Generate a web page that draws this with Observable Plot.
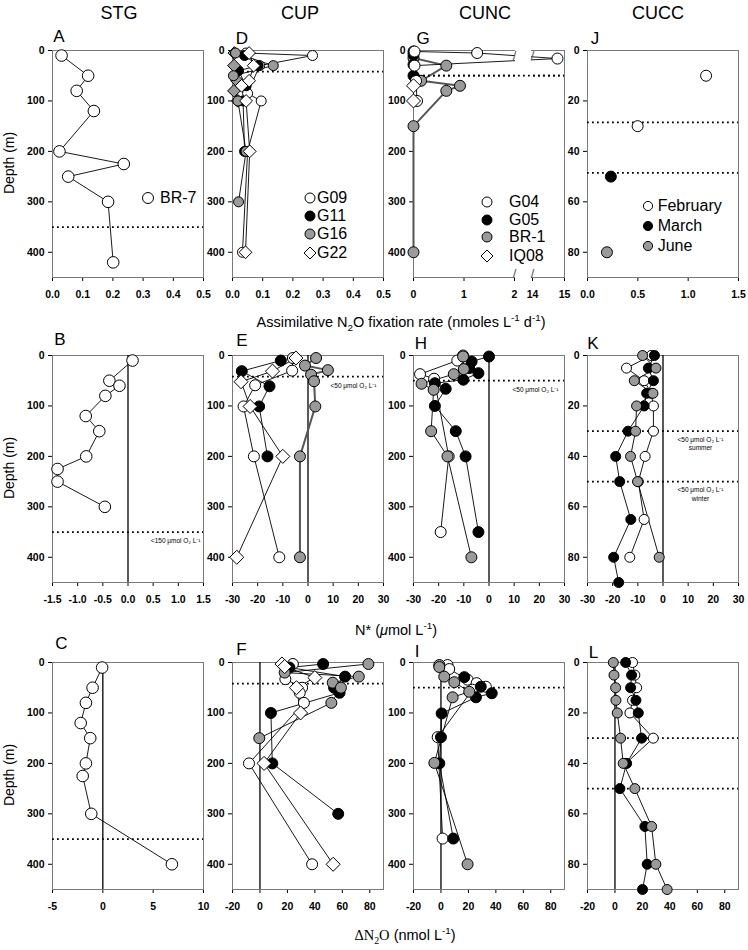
<!DOCTYPE html>
<html><head><meta charset="utf-8">
<script src="https://cdn.jsdelivr.net/npm/d3@7"></script>
<script src="https://cdn.jsdelivr.net/npm/@observablehq/plot@0.6"></script>
<style>
body{margin:0;background:#fff;font-family:"Liberation Sans",Arial,sans-serif;}
#fig{position:relative;width:748px;height:950px;overflow:hidden;background:#fff;}
.lab{position:absolute;white-space:nowrap;color:#000;transform:translate(-50%,-50%);line-height:1;}
.leg{position:absolute;white-space:nowrap;color:#000;font-size:16px;line-height:1;transform:translateY(-50%);}
sub,sup{font-size:68%;line-height:0;}
</style></head><body><div id="fig"></div>
<script>
// ---------------- DATA (depth m, value) ----------------
const columnTitles = ["STG", "CUP", "CUNC", "CUCC"];
const panelLetters = [["A","D","G","J"],["B","E","H","K"],["C","F","I","L"]];

// Row 1: assimilative N2O fixation rate
const A_BR7 = [[10,0.03],[50,0.118],[80,0.08],[120,0.137],[200,0.023],[225,0.236],[250,0.052],[300,0.184],[420,0.201]];
const D_G09 = [[5,0.045],[10,0.265],[30,0.09],[85,0.05],[100,0.095],[200,0.05],[400,0.033]];
const D_G11 = [[10,0.04],[30,0.085],[40,0.02],[70,0.045],[100,0.035],[200,0.04]];
const D_G16 = [[5,0.01],[30,0.135],[50,0.003],[100,0.018],[200,0.045],[300,0.02]];
const D_G22 = [[5,0.055],[30,0.07],[60,0.055],[70,0.03],[100,0.045],[200,0.057],[400,0.043]];
const D_G16b = [[5,0.006],[30,0.005],[60,0.015],[80,0.005],[100,0.018]];
const G_G04 = [[2,0.02],[5,1.26],[16,14.78],[30,0.02],[60,0.05],[100,0.07]];
const G_G05 = [[2,0],[8,0],[28,0],[50,0]];
const G_BR1 = [[15,0],[30,0.65],[60,0.15],[70,0.92],[80,0.65],[150,0],[400,0]];
const G_IQ08 = [[70,0],[100,0]];
const J_Feb = [[10,1.178],[30,0.498]];
const J_Mar = [[50,0.232]];
const J_Jun = [[80,0.193]];

// Row 2: N*
const B_BR7 = [[10,0.09],[50,-0.37],[60,-0.17],[80,-0.45],[120,-0.84],[150,-0.57],[200,-0.83],[225,-1.4],[250,-1.4],[300,-0.46]];
const E_G09 = [[5,-6],[30,-6.3],[59,-21],[101,-25.6],[200,-21.5],[400,-11.4]];
const E_G11 = [[10,-10.8],[31,-26.3],[61,-15.3],[101,-19.4],[200,-16.1]];
const E_G16 = [[5,3.2],[20,-1.2],[29,7.9],[38,1.2],[51,2.4],[101,2.9],[200,-3.2],[400,-3.2]];
const E_G22 = [[5,-4.8],[31,-14.1],[52,-26.6],[101,-23],[200,-10],[400,-28.3]];
const H_G04 = [[0,-10.3],[10,-12.6],[37,-27.4],[46,-21.8],[200,-16],[350,-19.2]];
const H_G05 = [[2,0],[12,-6.9],[25,-7.9],[35,-4.2],[48,-10.2],[55,-21.5],[66,-17.2],[100,-21.5],[150,-13.2],[200,-9.3],[350,-4.2]];
const H_BR1 = [[2,-10.3],[27,-10],[37,-14],[56,-26.8],[68,-22],[150,-23],[200,-16.5],[400,-7]];
const K_Feb = [[0,-4.7],[5,-14.5],[10,-7.5],[15,-4.7],[20,-3.8],[30,-3.8],[40,-7.1],[50,-9.8],[65,-7.5],[80,-13.2]];
const K_Mar = [[0,-3.4],[5,-5.8],[10,-3.8],[15,-6.5],[20,-7.5],[30,-13.9],[40,-18.8],[50,-17.2],[65,-12.8],[80,-19.6],[90,-17.6]];
const K_Jun = [[0,-8.1],[5,-2.8],[10,-11.4],[15,-4],[20,-10.5],[30,-10.9],[40,-12.9],[50,-10.1],[80,-1.5]];

// Row 3: delta N2O
const C_BR7 = [[10,-0.07],[50,-1.02],[80,-1.68],[120,-2.2],[150,-1.25],[200,-1.68],[225,-2.0],[300,-1.15],[400,6.86]];
const F_G09 = [[3,24],[33,18.5],[50,30.7],[60,29],[80,32],[200,-8],[400,38]];
const F_G11 = [[3,46],[10,21.5],[28,62],[50,54],[60,58],[100,8],[200,9],[300,57]];
const F_G16 = [[3,79],[20,18],[28,72],[40,53],[50,59],[80,52],[150,-0.5]];
const F_G22 = [[3,16],[8,18],[30,40],[50,26.6],[100,29.6],[200,3],[400,53.3]];
const I_G04 = [[5,4.8],[13,6],[34,19.4],[41,26],[48,32.7],[54,23],[148,-2.4],[349,1.2]];
const I_G05 = [[29,17],[48,29],[61,37],[69,25.5],[101,0.5],[148,0],[200,-1.2],[349,9]];
const I_BR1 = [[5,-1.2],[9,-1.2],[28,2.4],[39,9.7],[58,20.6],[69,8.5],[199,-4.8],[400,19.4]];
const L_Feb = [[0,12.8],[5,14.5],[10,15.8],[15,12.8],[20,10.9],[30,27.9],[40,8]];
const L_Mar = [[0,7.8],[5,12.1],[10,11.4],[15,15.3],[20,17],[30,19.4],[40,8.5],[50,3.6],[65,21.8],[80,23.5],[90,20.1]];
const L_Jun = [[0,-1.2],[5,-0.7],[10,0.5],[15,0.7],[20,1.7],[30,4.1],[40,6],[50,14.5],[65,26.7],[80,29.8],[90,38]];

// Oxygen threshold depths (dotted lines)
const oxSTG = [350];
const oxCUP = [42];
const oxCUNC = [50];
const oxCUCCrate = [28.5, 48.5];
const oxCUCC = [30, 50];
const oxNoteSTG = "<150 μmol O₂ L⁻¹";
const oxNote50 = "<50 μmol O₂ L⁻¹";
const seasonNotes = ["summer", "winter"];

// Axis tick values
const depthTicks = [0,100,200,300,400];
const depthTicksShelf = [0,20,40,60,80];
const rateTicks = [0,0.1,0.2,0.3,0.4,0.5];
const rateTicksCUNC = [0,1,2,14,15];
const cunBreak = [2, 14];
const rateTicksCUCC = [0,0.5,1.0,1.5];
const nstarTicksSTG = [-1.5,-1.0,-0.5,0,0.5,1.0,1.5];
const nstarTicks = [-30,-20,-10,0,10,20,30];
const dn2oTicksSTG = [-5,0,5,10];
const dn2oTicks = [-20,0,20,40,60,80];

// ---------------- STYLES / LAYOUT ----------------
const WHITE = {symbol:"circle", fill:"white"};
const BLACK = {symbol:"circle", fill:"black"};
const GRAY = {symbol:"circle", fill:"#9a9a9a"};
const DIAM = {symbol:"diamond2", fill:"white"};
const GDIAM = {symbol:"diamond2", fill:"#9a9a9a"};

const W = 151, H = 227, ML = 36, MR = 12, MT = 10, MB = 34;
const colLeft = [52, 232, 413, 587];
const rowTop = [50, 355, 662];
const fig = document.getElementById("fig");

const fmt1 = d => d.toFixed(1).replace("−","-");
const fmt0 = d => String(d);

function panel(cfg) {
  const marks = [Plot.frame({stroke:"#7a7a7a", strokeWidth:1})];
  if (cfg.zero) marks.push(Plot.ruleX([0], {stroke:"black", strokeWidth:1.3}));
  marks.push(Plot.ruleY(cfg.ox, {stroke:"black", strokeWidth:1.8, strokeDasharray:"1.8,3.2"}));
  for (const s of cfg.series) if (!cfg.noLine) marks.push(Plot.line(s.data, {x: d => d[1], y: d => d[0], stroke: s.lc || "black", strokeWidth: s.lw || 0.9}));
  const r = cfg.r || 5.5;
  for (const s of cfg.series) marks.push(Plot.dot(s.data, {x: d => d[1], y: d => d[0], symbol: s.sym.symbol, fill: s.sym.fill, stroke: "black", strokeWidth: 1, r: s.sym.symbol === "diamond2" ? r * 1.15 : r}));
  if (cfg.extra) marks.push(...cfg.extra);
  if (cfg.notes) marks.push(...cfg.notes);
  const xOpt = {domain: cfg.xDomain, ticks: cfg.xTicks, tickFormat: cfg.xFmt, tickSize: 4, tickPadding: 9, label: null};
  if (cfg.xRange) { xOpt.range = cfg.xRange; xOpt.type = "linear"; }
  const p = Plot.plot({
    width: W + ML + MR, height: H + MT + MB,
    marginLeft: ML, marginRight: MR, marginTop: MT, marginBottom: MB,
    x: xOpt,
    y: {domain: cfg.yDomain, reverse: true, ticks: cfg.yTicks, tickFormat: fmt0, tickSize: 4, tickPadding: 4, label: null},
    style: {fontFamily: "Liberation Sans, Arial, sans-serif", fontSize: "10.5px", fontWeight: "bold", color: "black", background: "transparent", overflow: "visible"},
    marks
  });
  p.style.position = "absolute";
  p.style.left = (cfg.left - ML) + "px";
  p.style.top = (cfg.top - MT) + "px";
  fig.appendChild(p);
}

const noteRight = (ox, text, dx, dy) => Plot.text(ox, {y: d => d, frameAnchor: "right", dx, dy, text: () => text, textAnchor: "end", fontSize: 6.5, fontWeight: "normal", fill: "black"});

// Row 1
panel({left: colLeft[0], top: rowTop[0], xDomain: [0,0.5], xTicks: rateTicks, xFmt: fmt1, yDomain: [0,450], yTicks: depthTicks, ox: oxSTG, r: 5.8,
  series: [{data: A_BR7, sym: WHITE}]});
panel({left: colLeft[1], top: rowTop[0], xDomain: [0,0.5], xTicks: rateTicks, xFmt: fmt1, yDomain: [0,450], yTicks: depthTicks, ox: oxCUP, r: 5,
  series: [{data: D_G09, sym: WHITE}, {data: D_G11, sym: BLACK}, {data: D_G16b, sym: GDIAM}, {data: D_G16, sym: GRAY}, {data: D_G22, sym: DIAM}]});
panel({left: colLeft[2], top: rowTop[0], xDomain: [0, cunBreak[0], cunBreak[1], 15], xRange: [ML, ML + 101, ML + 119, ML + W], xTicks: rateTicksCUNC, xFmt: fmt0,
  yDomain: [0,450], yTicks: depthTicks, ox: oxCUNC, r: 5.5,
  series: [{data: G_BR1, sym: GRAY, lw: 2, lc: "#555"}, {data: G_G05, sym: BLACK}, {data: G_G04, sym: WHITE}, {data: G_IQ08, sym: DIAM}],
  extra: [
    Plot.rect([cunBreak], {x1: d => d[0], x2: d => d[1], y1: () => 0, y2: () => 450, fill: "white", insetLeft: 1, insetRight: 1, insetTop: -3, insetBottom: -3}),
    Plot.ruleY(oxCUNC, {stroke:"black", strokeWidth:1.8, strokeDasharray:"1.8,3.2"}),
    Plot.text(cunBreak, {x: d => d, frameAnchor: "top", text: () => "/", fontSize: 13, fontWeight: "normal", fill: "#555"}),
    Plot.text(cunBreak, {x: d => d, frameAnchor: "bottom", text: () => "/", fontSize: 13, fontWeight: "normal", fill: "#555"})
  ]});
panel({left: colLeft[3], top: rowTop[0], xDomain: [0,1.5], xTicks: rateTicksCUCC, xFmt: fmt1, yDomain: [0,90], yTicks: depthTicksShelf, ox: oxCUCCrate, r: 5.5, noLine: true,
  series: [{data: J_Feb, sym: WHITE}, {data: J_Mar, sym: BLACK}, {data: J_Jun, sym: GRAY}]});

// Row 2
panel({left: colLeft[0], top: rowTop[1], xDomain: [-1.5,1.5], xTicks: nstarTicksSTG, xFmt: fmt1, yDomain: [0,450], yTicks: depthTicks, ox: oxSTG, zero: true, r: 5.8,
  series: [{data: B_BR7, sym: WHITE}], notes: [noteRight(oxSTG, oxNoteSTG, -3, 9)]});
panel({left: colLeft[1], top: rowTop[1], xDomain: [-30,30], xTicks: nstarTicks, xFmt: fmt0, yDomain: [0,450], yTicks: depthTicks, ox: oxCUP, zero: true, r: 5.5,
  series: [{data: E_G16, sym: GRAY, lw: 2, lc: "#555"}, {data: E_G09, sym: WHITE}, {data: E_G11, sym: BLACK}, {data: E_G22, sym: DIAM}],
  notes: [noteRight(oxCUP, oxNote50, -7, 9)]});
panel({left: colLeft[2], top: rowTop[1], xDomain: [-30,30], xTicks: nstarTicks, xFmt: fmt0, yDomain: [0,450], yTicks: depthTicks, ox: oxCUNC, zero: true, r: 5.5,
  series: [{data: H_G04, sym: WHITE}, {data: H_G05, sym: BLACK}, {data: H_BR1, sym: GRAY}],
  notes: [noteRight(oxCUNC, oxNote50, -6, 9)]});
panel({left: colLeft[3], top: rowTop[1], xDomain: [-30,30], xTicks: nstarTicks, xFmt: fmt0, yDomain: [0,90], yTicks: depthTicksShelf, ox: oxCUCC, zero: true, r: 5,
  series: [{data: K_Feb, sym: WHITE}, {data: K_Mar, sym: BLACK}, {data: K_Jun, sym: GRAY}],
  notes: [Plot.text(oxCUCC, {y: d => d, frameAnchor: "right", dx: -38, dy: 12, text: (d, i) => oxNote50 + "\n" + seasonNotes[i], textAnchor: "middle", fontSize: 6.5, lineHeight: 1.3, fontWeight: "normal", fill: "black"})]});

// Row 3
panel({left: colLeft[0], top: rowTop[2], xDomain: [-5,10], xTicks: dn2oTicksSTG, xFmt: fmt0, yDomain: [0,450], yTicks: depthTicks, ox: oxSTG, zero: true, r: 5.8,
  series: [{data: C_BR7, sym: WHITE}]});
panel({left: colLeft[1], top: rowTop[2], xDomain: [-20,90], xTicks: dn2oTicks, xFmt: fmt0, yDomain: [0,450], yTicks: depthTicks, ox: oxCUP, zero: true, r: 5.5,
  series: [{data: F_G09, sym: WHITE}, {data: F_G11, sym: BLACK}, {data: F_G16, sym: GRAY}, {data: F_G22, sym: DIAM}]});
panel({left: colLeft[2], top: rowTop[2], xDomain: [-20,90], xTicks: dn2oTicks, xFmt: fmt0, yDomain: [0,450], yTicks: depthTicks, ox: oxCUNC, zero: true, r: 5.5,
  series: [{data: I_G04, sym: WHITE}, {data: I_G05, sym: BLACK}, {data: I_BR1, sym: GRAY}]});
panel({left: colLeft[3], top: rowTop[2], xDomain: [-20,90], xTicks: dn2oTicks, xFmt: fmt0, yDomain: [0,90], yTicks: depthTicksShelf, ox: oxCUCC, zero: true, r: 5,
  series: [{data: L_Feb, sym: WHITE}, {data: L_Mar, sym: BLACK}, {data: L_Jun, sym: GRAY}]});

// ---------------- TEXT ----------------
function label(html, cx, cy, size, extra) {
  const d = document.createElement("div");
  d.className = "lab";
  d.innerHTML = html;
  d.style.left = cx + "px"; d.style.top = cy + "px"; d.style.fontSize = size + "px";
  if (extra) Object.assign(d.style, extra);
  fig.appendChild(d);
}
const titleX = [119, 300, 485, 658];
columnTitles.forEach((t, i) => label(t, titleX[i], 13, 18));
const letterPos = [
  [[59,35.5],[242,37.5],[423,37.5],[595,38]],
  [[60,339],[242,340],[421,342.5],[593,343]],
  [[61.5,643],[241.5,648.5],[417,650.5],[593.5,651.5]]
];
panelLetters.forEach((row, r) => row.forEach((L, c) => label(L, letterPos[r][c][0], letterPos[r][c][1], 17)));
label("Assimilative N<sub>2</sub>O fixation rate (nmoles L<sup>-1</sup> d<sup>-1</sup>)", 401, 322, 14.5);
label("N* (<i>μ</i>mol L<sup>-1</sup>)", 396, 630, 14.5);
label("<span style=\"font-family:'Liberation Serif','DejaVu Serif',serif\">ΔN<sub>2</sub>O</span> (nmol L<sup>-1</sup>)", 405, 935, 14.5);
[163, 468, 775].forEach(y => label("Depth (m)", 9, y, 14, {transform: "translate(-50%,-50%) rotate(-90deg)"}));

// Legends
function legend(items, mx, tx, ys, r) {
  items.forEach((it, i) => {
    const s = document.createElementNS("http://www.w3.org/2000/svg", "svg");
    s.setAttribute("width", 16); s.setAttribute("height", 16);
    s.style.position = "absolute"; s.style.left = (mx - 8) + "px"; s.style.top = (ys[i] - 8) + "px";
    let shape;
    if (it.sym.symbol === "diamond2") {
      shape = document.createElementNS("http://www.w3.org/2000/svg", "path");
      const q = r * 1.2;
      shape.setAttribute("d", `M8,${8-q}L${8+q},8L8,${8+q}L${8-q},8Z`);
    } else {
      shape = document.createElementNS("http://www.w3.org/2000/svg", "circle");
      shape.setAttribute("cx", 8); shape.setAttribute("cy", 8); shape.setAttribute("r", r);
    }
    shape.setAttribute("fill", it.sym.fill); shape.setAttribute("stroke", "black"); shape.setAttribute("stroke-width", 1);
    s.appendChild(shape);
    fig.appendChild(s);
    const d = document.createElement("div");
    d.className = "leg"; d.textContent = it.label;
    d.style.left = tx + "px"; d.style.top = ys[i] + "px";
    fig.appendChild(d);
  });
}
legend([{sym: WHITE, label: "BR-7"}], 148, 160, [198], 5.5);
legend([{sym: WHITE, label: "G09"}, {sym: BLACK, label: "G11"}, {sym: GRAY, label: "G16"}, {sym: DIAM, label: "G22"}], 309.5, 317, [197.7, 216, 234.3, 253.3], 5);
legend([{sym: WHITE, label: "G04"}, {sym: BLACK, label: "G05"}, {sym: GRAY, label: "BR-1"}, {sym: DIAM, label: "IQ08"}], 487.3, 509, [201.7, 220, 237.3, 256], 5);
legend([{sym: WHITE, label: "February"}, {sym: BLACK, label: "March"}, {sym: GRAY, label: "June"}], 648.3, 657.7, [206, 226, 246], 4.6);
</script></body></html>
